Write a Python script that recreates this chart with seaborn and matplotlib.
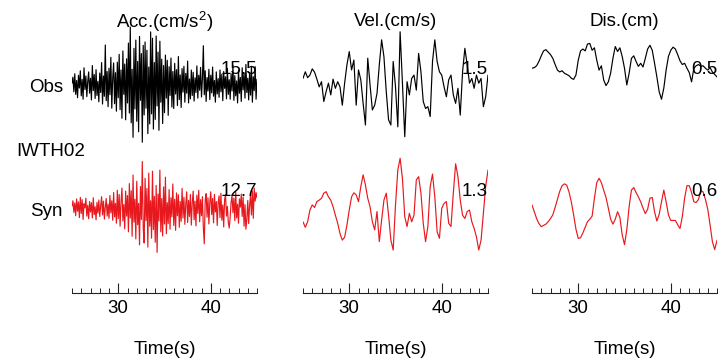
import numpy as np
import matplotlib
matplotlib.use('Agg')
import matplotlib.pyplot as plt
import seaborn as sns

# ---- data ----
time_acc = np.linspace(25, 45, 201)    # 0.1 s step
time_slow = np.linspace(25, 45, 81)    # 0.25 s step

# acceleration (cm/s^2)
acc_obs = [0.5, 2.1, -1.8, 3.0, -2.5, 1.2, -3.4, 2.6, -0.8, 3.8,
           -2.9, 1.5, -3.8, 4.6, -1.2, 2.4, -3.1, 0.9, 3.5, -2.2,
           1.8, -4.0, 5.2, -1.5, 2.8, -3.6, 4.1, -2.8, 1.0, -4.5,
           3.2, -2.0, 6.0, -5.1, 2.4, -3.0, 10.7, -4.2, 3.6, -5.8,
           4.5, -2.6, 7.4, -6.2, 1.8, 5.9, -5.0, 3.3, -7.0, 6.1,
           -3.4, 8.2, -6.6, 4.0, -8.9, 9.1, -2.5, 5.6, -9.3, 7.0,
           -4.8, 11.2, -7.5, 15.5, -10.1, 4.2, -14.0, 9.8, -6.4, 12.0,
           -9.7, 6.3, -12.5, 13.0, -4.1, 8.4, -15.3, 10.6, -8.0, 11.5,
           -6.2, 9.3, -13.0, 4.8, -10.4, 14.2, -7.7, 12.5, -11.8, 6.0,
           -9.2, 13.1, -5.6, 8.8, -12.1, 11.7, -4.6, 6.9, -10.3, 5.2,
           -7.4, 8.0, -3.5, 6.6, -8.1, 4.9, -2.8, 7.2, -5.9, 3.6,
           -6.3, 5.8, -2.4, 4.1, -5.5, 7.6, -3.9, 2.7, -6.0, 4.4,
           -1.9, 5.0, -4.6, 3.1, -2.2, 6.4, -4.8, 1.6, -3.7, 4.0,
           -2.8, 3.4, -4.3, 1.9, -2.0, 5.1, -3.5, 2.6, -1.4, 4.7,
           -3.2, 1.8, 10.5, -2.6, 3.8, -4.4, 2.0, -1.6, 4.2, -3.9,
           2.6, -2.1, 4.8, -3.0, 1.2, -4.6, 3.5, -2.4, 1.7, -3.3,
           4.0, -1.8, 2.9, -4.2, 3.6, -0.9, 2.2, -3.7, 4.4, -2.5,
           1.4, -3.8, 3.0, -1.6, 5.2, -4.1, 2.5, -2.9, 1.1, -4.8,
           3.9, -2.2, 2.0, -4.4, 4.6, -1.3, 3.2, -3.5, 5.5, -2.0,
           1.8, -4.0, 3.4, -2.7, 5.0, -4.6, 2.2, -1.5, 4.9, -3.8,
           1.5]
acc_syn = [0.8, 2.2, -0.9, 1.6, -1.8, 2.7, -0.6, 1.9, -2.3, 3.1,
           -1.2, 2.5, -2.8, 1.4, 0.3, 2.9, -1.9, 1.0, -2.6, 2.0,
           -0.8, 1.7, -2.4, 3.0, -1.5, 0.6, -2.9, 1.8, -1.1, 2.4,
           -2.0, 0.9, 3.3, -1.6, 2.1, -2.7, 0.5, 2.8, -1.9, 1.3,
           -2.5, 3.6, -1.0, 2.2, -3.0, 4.4, -2.1, 1.5, -3.8, 5.0,
           -2.6, 3.9, -4.6, 2.0, 5.6, -3.2, 1.2, -5.3, 4.8, -1.9,
           3.6, -6.1, 6.8, -2.4, 4.9, -7.3, 9.1, -3.5, 2.6, -8.0,
           7.4, -4.2, 1.5, -9.6, 6.0, -2.8, 12.7, -5.0, -9.1, 8.2,
           -3.1, 5.5, -10.2, 9.6, -4.6, 2.2, -7.8, 10.1, -5.5, 3.4,
           -8.9, 6.3, -11.6, 4.0, -3.2, 10.4, -6.1, 2.8, -7.2, 5.9,
           -4.0, 8.5, -6.6, 1.7, -3.9, 5.2, -5.4, 3.0, -2.1, 6.7,
           -4.4, 2.6, -5.7, 4.3, -1.8, 3.8, -4.9, 2.0, -3.3, 5.5,
           -2.4, 3.1, -4.1, 1.4, 4.6, -3.6, 2.3, -2.0, 3.9, -4.3,
           1.6, 4.8, -2.9, 2.1, -4.5, 3.7, -1.2, 5.0, -3.4, 2.5,
           -1.8, 3.3, -5.1, -9.3, 2.4, 4.1, -2.2, 3.0, -4.0, 1.9,
           4.6, -1.5, 2.8, -3.7, 3.9, -0.8, 2.0, -4.4, 1.7, 3.5,
           -2.3, 4.2, -3.0, 1.1, -4.8, 2.6, 3.8, -1.9, 0.7, -3.6,
           -5.1, -2.2, 1.8, 3.6, -1.0, 2.9, -3.1, 4.5, -2.4, 1.3,
           -3.8, 2.7, 0.5, 4.0, -2.0, 3.2, -4.6, 1.2, -5.4, -2.8,
           2.3, -3.9, 1.0, 3.6, -1.6, 4.8, -2.5, 5.6, 2.1, 4.4,
           3.0]

# velocity (cm/s)
vel_obs = [0.18, 0.36, 0.20, 0.27, 0.44, 0.35, 0.16, -0.05, 0.09, -0.45,
           -0.18, 0.05, -0.27, 0.16, -0.09, 0.09, -0.05, -0.55, 0.05, 0.55,
           0.91, 0.41, 0.68, -0.55, 0.41, 0.14, -0.50, -1.09, 0.73, 0.00,
           -0.68, -0.55, -0.23, 0.55, 1.23, 0.77, -0.18, -0.95, -1.09, 0.64,
           -0.05, -1.14, 1.45, 0.05, -1.41, 0.09, -0.27, 0.18, 0.27, -0.14,
           0.86, 0.36, -0.45, -0.64, -0.59, -0.86, 0.64, 1.23, 0.64, 0.36,
           0.27, -0.05, -0.32, 0.14, 0.27, -0.27, -0.50, -0.09, -0.82, 0.36,
           1.00, 0.55, 0.05, 0.18, -0.09, 0.27, 0.05, 0.18, -0.59, -0.32,
           0.27]
vel_syn = [-0.43, -0.58, -0.43, -0.11, 0.03, -0.04, 0.12, 0.16, 0.21, 0.35,
           0.39, 0.25, 0.16, -0.02, -0.25, -0.47, -0.75, -0.93, -0.85, -0.52,
           -0.11, 0.25, 0.36, 0.30, 0.12, 0.53, 0.85, 0.57, 0.21, -0.02,
           -0.43, -0.65, -0.15, -0.97, -0.38, 0.16, 0.35, -0.25, -0.93, -1.20,
           0.03, 0.98, 1.30, 0.75, -0.29, -0.56, -0.20, -0.43, -0.25, 0.71,
           0.80, 0.35, -0.47, -0.97, -0.56, 0.53, 0.87, 0.25, -0.70, -0.88,
           -0.06, 0.07, 0.12, -0.47, -0.56, 0.35, 1.15, 0.80, 0.16, -0.25,
           -0.34, -0.15, -0.11, -0.43, -0.61, -0.84, -1.20, -0.93, -0.20, 0.53,
           0.98]

# displacement (cm)
dis_obs = [-0.02, -0.01, 0.02, 0.09, 0.18, 0.26, 0.28, 0.24, 0.20, 0.14,
           0.04, -0.05, -0.08, -0.06, -0.10, -0.12, -0.14, -0.18, -0.20, -0.13,
           0.11, 0.26, 0.29, 0.26, 0.37, 0.38, 0.27, 0.31, 0.11, -0.05,
           0.02, -0.21, -0.30, -0.24, -0.10, 0.14, 0.33, 0.25, 0.31, 0.17,
           -0.02, -0.29, -0.10, 0.14, 0.18, 0.09, 0.01, 0.06, 0.00, 0.14,
           0.29, 0.35, 0.27, 0.06, -0.16, -0.40, -0.52, -0.34, -0.05, 0.17,
           0.27, 0.32, 0.29, 0.20, 0.10, 0.04, 0.06, -0.02, -0.09, -0.24,
           -0.02, 0.02, 0.04, 0.01, 0.02, -0.02, -0.05, -0.01, -0.08, -0.12,
           -0.16]
dis_syn = [0.13, 0.02, -0.09, -0.17, -0.22, -0.20, -0.18, -0.14, -0.09, -0.03,
           0.09, 0.22, 0.35, 0.44, 0.47, 0.45, 0.34, 0.18, -0.03, -0.26,
           -0.41, -0.40, -0.32, -0.23, -0.14, -0.10, -0.05, 0.24, 0.49, 0.56,
           0.49, 0.37, 0.25, 0.08, -0.10, -0.18, -0.10, 0.02, -0.07, -0.35,
           -0.51, -0.27, 0.10, 0.37, 0.41, 0.33, 0.26, 0.18, 0.08, -0.01,
           0.06, 0.24, 0.25, 0.02, -0.13, -0.02, 0.18, 0.37, 0.18, -0.03,
           -0.12, -0.12, -0.12, -0.19, -0.25, -0.06, 0.24, 0.44, 0.44, 0.33,
           0.18, 0.17, 0.22, 0.36, 0.34, 0.22, 0.06, -0.19, -0.46, -0.59,
           -0.44]

peak_labels = [['15.5', '12.7'], ['1.5', '1.3'], ['0.5', '0.6']]
col_titles = ['Acc.(cm/s$^2$)', 'Vel.(cm/s)', 'Dis.(cm)']
row_names = ['Obs', 'Syn']
station = 'IWTH02'

# ---- style ----
sns.set_style('white')
plt.rcParams['font.family'] = ['Liberation Sans', 'DejaVu Sans']
plt.rcParams['mathtext.fontset'] = 'custom'
plt.rcParams['mathtext.rm'] = 'Liberation Sans'
plt.rcParams['text.color'] = 'black'
plt.rcParams['axes.labelcolor'] = 'black'
plt.rcParams['xtick.color'] = 'black'
FS = 13.5

W, H = 718, 359
fig = plt.figure(figsize=(W / 100, H / 100), dpi=100)

top_px, axis_px, width_px = 20, 293, 185
# (time, obs, syn, px per unit, left px, obs centre px, syn centre px)
columns = [
    (time_acc, acc_obs, acc_syn, 3.74, 72, 85, 209),
    (time_slow, vel_obs, vel_syn, 36.7, 303, 85, 206),
    (time_slow, dis_obs, dis_syn, 62.0, 532, 67, 213),
]

for j, (t, obs, syn, k, left, c_obs, c_syn) in enumerate(columns):
    ax = fig.add_axes([left / W, 1 - axis_px / H, width_px / W, (axis_px - top_px) / H])
    off_obs = (axis_px - c_obs) / k
    off_syn = (axis_px - c_syn) / k
    sns.lineplot(x=t, y=np.array(obs) + off_obs, ax=ax, color='black', lw=0.85, estimator=None)
    sns.lineplot(x=t, y=np.array(syn) + off_syn, ax=ax, color='#e8191e', lw=0.85, estimator=None)
    ax.set_xlim(25, 45)
    ax.set_ylim(0, (axis_px - top_px) / k)
    ax.set_yticks([])
    ax.set_ylabel('')
    for s in ['left', 'right', 'top']:
        ax.spines[s].set_visible(False)
    ax.spines['bottom'].set_color('#222222')
    ax.spines['bottom'].set_linewidth(0.8)
    ax.set_xticks([30, 40])
    ax.set_xticks(np.arange(25, 46, 1), minor=True)
    ax.tick_params(axis='x', which='major', direction='in', length=7, width=0.8,
                   color='#222222', labelsize=FS, pad=5, bottom=True)
    ax.tick_params(axis='x', which='minor', direction='in', length=3.5, width=0.7,
                   color='#222222', bottom=True)
    ax.set_xlabel('Time(s)', fontsize=FS, labelpad=17)
    ax.patch.set_alpha(0)

    cx = left + width_px / 2
    fig.text(cx / W, 1 - 22 / H, col_titles[j], ha='center', va='center', fontsize=FS)
    right = left + width_px
    fig.text(right / W, 1 - 69 / H, peak_labels[j][0], ha='right', va='center', fontsize=FS)
    fig.text(right / W, 1 - 192 / H, peak_labels[j][1], ha='right', va='center', fontsize=FS)

fig.text(63 / W, 1 - 87 / H, row_names[0], ha='right', va='center', fontsize=FS)
fig.text(63 / W, 1 - 212 / H, row_names[1], ha='right', va='center', fontsize=FS)
fig.text(16 / W, 1 - 151 / H, station, ha='left', va='center', fontsize=FS)

fig.savefig('out.png', dpi=100)
